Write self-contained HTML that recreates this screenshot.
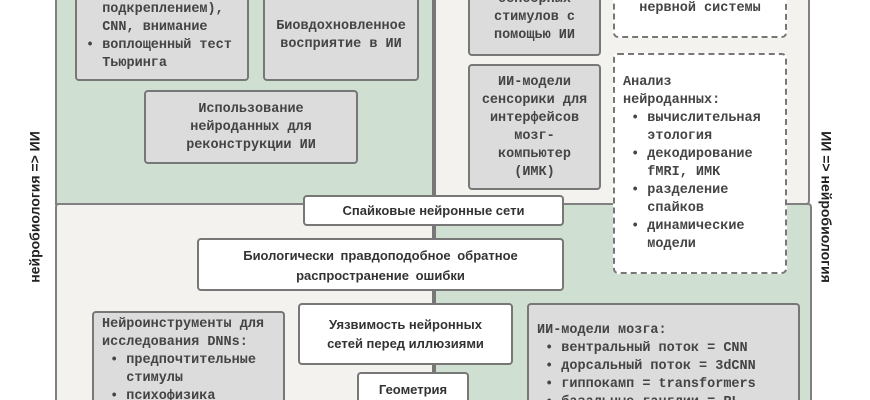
<!DOCTYPE html>
<html><head><meta charset="utf-8"><style>
html,body{margin:0;width:870px;height:400px;overflow:hidden}
body{background:#fff}
#wrap{position:relative;width:870px;height:400px;overflow:hidden}
div{box-sizing:border-box}
.p{position:absolute}
.panel{position:absolute;border:2px solid #808080}
.box{position:absolute;border:2px solid #777;border-radius:4px;background:#dcdcdc}
.w{background:#fff}
.d{position:absolute;border:2px dashed #777;border-radius:5px;background:#fff}
.m{position:absolute;font-family:"Liberation Mono","DejaVu Sans Mono",monospace;font-weight:bold;font-size:13.5px;line-height:18px;color:#444;white-space:pre}
.s{position:absolute;font-family:"Liberation Sans","DejaVu Sans",sans-serif;font-weight:bold;font-size:13px;line-height:19px;color:#333;white-space:nowrap}
.c{text-align:center}
</style></head><body><div id="wrap">
<div class="panel" style="left:55px;top:-10px;width:381px;height:215px;background:#cfe0d3;border-radius:0 0 4px 0"></div>
<div class="panel" style="left:434px;top:-10px;width:376px;height:215px;background:#f3f2ee;border-radius:0 0 4px 0"></div>
<div class="panel" style="left:55px;top:203px;width:381px;height:197px;background:#f3f2ee;border-radius:4px 0 0 0;border-bottom:none"></div>
<div class="panel" style="left:434px;top:203px;width:378px;height:197px;background:#cfe0d3;border-radius:0 4px 0 0;border-bottom:none"></div>
<div class="p" style="left:432px;top:0;width:4px;height:400px;background:#777"></div>

<div class="s" style="left:35px;top:207px;transform:translate(-50%,-50%) rotate(-90deg);font-size:14px;color:#222">нейробиология =&gt; ИИ</div>
<div class="s" style="left:826px;top:207px;transform:translate(-50%,-50%) rotate(90deg);font-size:14px;color:#222">ИИ =&gt; нейробиология</div>

<div class="box" style="left:75px;top:-20px;width:174px;height:101px"></div>
<div class="m" style="left:86px;top:1px">  подкреплением),
  CNN, внимание
• воплощенный тест
  Тьюринга</div>
<div class="box" style="left:263px;top:-20px;width:156px;height:101px"></div>
<div class="m c" style="left:263px;top:18px;width:156px">Биовдохновленное
восприятие в ИИ</div>
<div class="box" style="left:144px;top:90px;width:214px;height:74px"></div>
<div class="m c" style="left:144px;top:101px;width:214px">Использование
нейроданных для
реконструкции ИИ</div>

<div class="box" style="left:468px;top:-20px;width:133px;height:76px"></div>
<div class="m c" style="left:468px;top:-9px;width:133px">сенсорных
стимулов с
помощью ИИ</div>
<div class="box" style="left:468px;top:64px;width:133px;height:126px"></div>
<div class="m c" style="left:468px;top:74px;width:133px">ИИ-модели
сенсорики для
интерфейсов
мозг-
компьютер
(ИМК)</div>
<div class="d" style="left:613px;top:-20px;width:174px;height:58px"></div>
<div class="m c" style="left:613px;top:0px;width:174px">нервной системы</div>
<div class="d" style="left:613px;top:53px;width:174px;height:221px"></div>
<div class="m" style="left:623px;top:74px">Анализ
нейроданных:
 • вычислительная
   этология
 • декодирование
   fMRI, ИМК
 • разделение
   спайков
 • динамические
   модели</div>

<div class="box w" style="left:303px;top:195px;width:261px;height:31px"></div>
<div class="s c" style="left:303px;top:201px;width:261px">Спайковые нейронные сети</div>
<div class="box w" style="left:197px;top:238px;width:367px;height:53px"></div>
<div class="s c" style="left:197px;top:246px;width:367px;line-height:20px;word-spacing:3px">Биологически правдоподобное обратное<br>распространение ошибки</div>
<div class="box w" style="left:298px;top:303px;width:215px;height:62px"></div>
<div class="s c" style="left:298px;top:315px;width:215px">Уязвимость нейронных<br>сетей перед иллюзиями</div>
<div class="box w" style="left:357px;top:372px;width:112px;height:28px;border-bottom:none;border-radius:4px 4px 0 0"></div>
<div class="s c" style="left:357px;top:380px;width:112px">Геометрия</div>

<div class="box" style="left:92px;top:311px;width:193px;height:89px;border-bottom:none;border-radius:4px 4px 0 0"></div>
<div class="m" style="left:102px;top:316px;height:84px;overflow:hidden">Нейроинструменты для
исследования DNNs:
 • предпочтительные
   стимулы
 • психофизика</div>
<div class="box" style="left:527px;top:303px;width:273px;height:97px;border-bottom:none;border-radius:4px 4px 0 0"></div>
<div class="m" style="left:537px;top:322px;height:78px;overflow:hidden">ИИ-модели мозга:
 • вентральный поток = CNN
 • дорсальный поток = 3dCNN
 • гиппокамп = transformers
 • базальные ганглии = RL</div>
</div></body></html>
